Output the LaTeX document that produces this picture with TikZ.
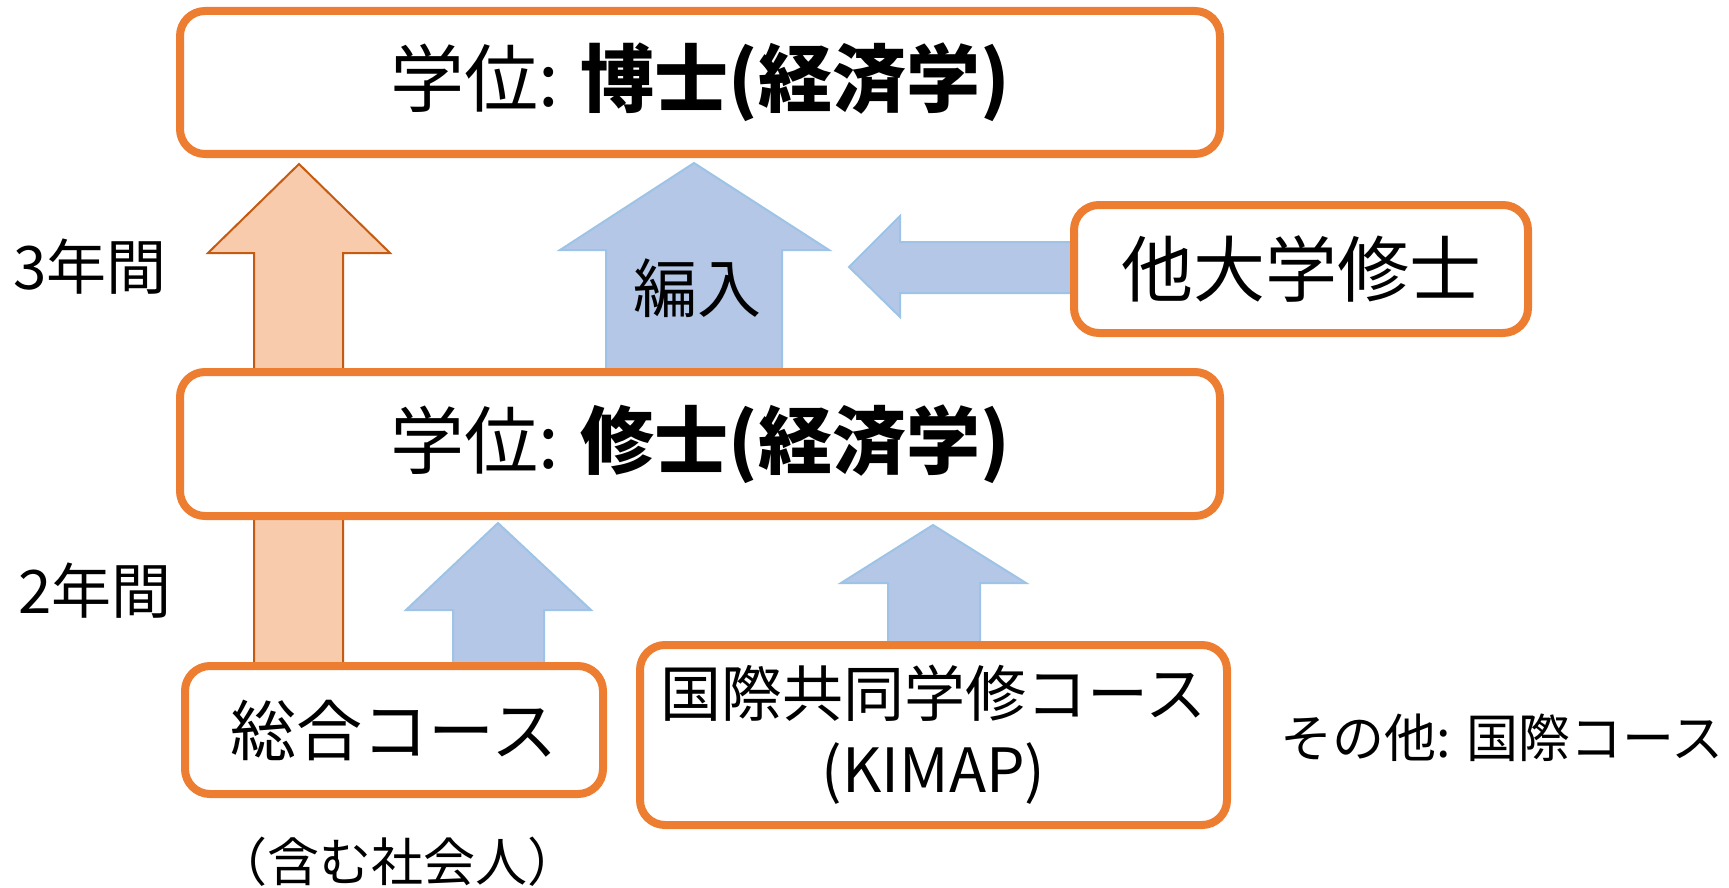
\documentclass[tikz,border=0pt]{standalone}
\usepackage{fontspec}
\setmainfont{Noto Sans CJK JP}
\definecolor{boxorange}{RGB}{237,125,49}
\definecolor{arroworange}{RGB}{248,203,173}
\definecolor{arrowdark}{RGB}{197,90,17}
\definecolor{bluefill}{RGB}{180,199,231}
\definecolor{blueedge}{RGB}{157,195,230}
\begin{document}
\begin{tikzpicture}[x=1pt,y=-1pt,
  box/.style={draw=boxorange, line width=8pt, rounded corners=25pt, fill=white,
    inner sep=0pt, align=center, anchor=center},
  oarrow/.style={draw=arrowdark, fill=arroworange, line width=2pt},
  barrow/.style={draw=blueedge, fill=bluefill, line width=2pt},
  lbl/.style={inner sep=0pt, anchor=center}]
\useasboundingbox (0,0) rectangle (1729,888);
% block arrows (behind the boxes)
\draw[oarrow] (254,666) -- (254,253) -- (208,253) -- (299,164) -- (390,253) -- (343,253) -- (343,666) -- cycle;
\draw[barrow] (453,666) -- (453,610) -- (406,610) -- (498,523) -- (591,610) -- (544,610) -- (544,666) -- cycle;
\draw[barrow] (888,645) -- (888,583) -- (841,583) -- (933,525) -- (1026,583) -- (980,583) -- (980,645) -- cycle;
\draw[barrow] (606,372) -- (606,250) -- (560,250) -- (694,163) -- (829,250) -- (782,250) -- (782,372) -- cycle;
\draw[barrow] (1074,242) -- (900,242) -- (900,216) -- (849,267) -- (900,317) -- (900,293) -- (1074,293) -- cycle;
\node[lbl, font=\fontsize{64}{76}\selectfont] (hennyu) at (697,288) {編入};
% boxes
\node[box, minimum width=1040pt, minimum height=143pt, font=\fontsize{74}{88}\selectfont] (phd) at (700,82.5)
  {学位: \textbf{博士(経済学)}};
\node[box, minimum width=1040pt, minimum height=144pt, font=\fontsize{74}{88}\selectfont] (ms) at (700,444)
  {学位: \textbf{修士(経済学)}};
\node[box, minimum width=454pt, minimum height=128pt, font=\fontsize{72}{86}\selectfont] (other) at (1301,269)
  {他大学修士};
\node[box, minimum width=418pt, minimum height=128pt, font=\fontsize{66}{80}\selectfont] (soka) at (394,730)
  {総合コース};
\node[box, minimum width=587pt, minimum height=180pt, font=\fontsize{61}{76}\selectfont] (kimap) at (933.5,735)
  {国際共同学修コース\\(KIMAP)};
% labels
\node[lbl, font=\fontsize{60}{72}\selectfont] (y3) at (90,267) {3年間};
\node[lbl, font=\fontsize{60}{72}\selectfont] (y2) at (95,591) {2年間};
\node[lbl, font=\fontsize{52}{62}\selectfont] (incl) at (397,862) {（含む社会人）};
\node[lbl, anchor=west, font=\fontsize{52}{62}\selectfont] (intl) at (1280,738) {その他: 国際コース};
\end{tikzpicture}
\end{document}
